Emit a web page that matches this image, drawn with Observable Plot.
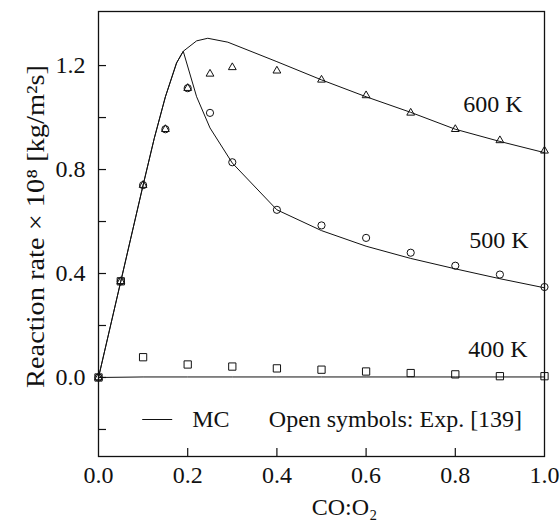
<!DOCTYPE html>
<html>
<head>
<meta charset="utf-8">
<script src="https://cdn.jsdelivr.net/npm/d3@7"></script>
<script src="https://cdn.jsdelivr.net/npm/@observablehq/plot@0.6"></script>
<style>
  html, body { margin: 0; padding: 0; background: #fff; }
</style>
</head>
<body>
<div id="chart"></div>
<script>
// ---- Data ----
const series = ["600 K", "500 K", "400 K"];

// Monte Carlo (MC) simulation curves
const mcX600 = [0, 0.05, 0.1, 0.125, 0.15, 0.175, 0.19, 0.22, 0.245, 0.29, 0.4, 0.5, 0.6, 0.7, 0.8, 0.9, 1.0];
const mcY600 = [0, 0.37, 0.74, 0.92, 1.08, 1.21, 1.255, 1.295, 1.305, 1.29, 1.215, 1.145, 1.08, 1.02, 0.955, 0.908, 0.865];

const mcX500 = [0, 0.05, 0.1, 0.125, 0.15, 0.175, 0.19, 0.22, 0.25, 0.3, 0.4, 0.5, 0.6, 0.7, 0.8, 0.9, 1.0];
const mcY500 = [0, 0.37, 0.74, 0.92, 1.08, 1.21, 1.255, 1.08, 0.96, 0.825, 0.645, 0.565, 0.505, 0.458, 0.418, 0.38, 0.345];

const mcX400 = [0, 0.1, 0.2, 0.3, 0.4, 0.5, 0.6, 0.7, 0.8, 0.9, 1.0];
const mcY400 = [0, 0.002, 0.002, 0.002, 0.002, 0.002, 0.002, 0.002, 0.002, 0.002, 0.002];

// Experimental data (open symbols)
const expX600 = [0, 0.05, 0.1, 0.15, 0.2, 0.25, 0.3, 0.4, 0.5, 0.6, 0.7, 0.8, 0.9, 1.0];
const expY600 = [0, 0.37, 0.74, 0.955, 1.113, 1.168, 1.193, 1.18, 1.145, 1.085, 1.018, 0.955, 0.912, 0.872];

const expX500 = [0, 0.05, 0.1, 0.15, 0.2, 0.25, 0.3, 0.4, 0.5, 0.6, 0.7, 0.8, 0.9, 1.0];
const expY500 = [0, 0.37, 0.74, 0.955, 1.113, 1.018, 0.828, 0.645, 0.585, 0.537, 0.48, 0.43, 0.396, 0.348];

const expX400 = [0, 0.05, 0.1, 0.2, 0.3, 0.4, 0.5, 0.6, 0.7, 0.8, 0.9, 1.0];
const expY400 = [0, 0.37, 0.078, 0.05, 0.042, 0.035, 0.03, 0.023, 0.017, 0.012, 0.005, 0.005];

// Axis ticks
const xTicks = [0, 0.2, 0.4, 0.6, 0.8, 1.0];
const yTickLabels = [0, 0.4, 0.8, 1.2];
const yTickMarks = [-0.2, 0, 0.2, 0.4, 0.6, 0.8, 1.0, 1.2];
const xTickMarks = [0.2, 0.4, 0.6, 0.8];

// Texts
const yLabel = "Reaction rate \u00d7 10\u2078 [kg/m\u00b2s]";
const xLabel = "CO:O\u2082";
const legendMC = "MC";
const legendExp = "Open symbols: Exp. [139]";

// ---- Build tables ----
const mcSets = [[mcX600, mcY600], [mcX500, mcY500], [mcX400, mcY400]];
const expSets = [[expX600, expY600], [expX500, expY500], [expX400, expY400]];
const mcData = [];
mcSets.forEach(([xs, ys], i) => xs.forEach((x, j) => mcData.push({series: series[i], x, y: ys[j]})));
const expData = [];
expSets.forEach(([xs, ys], i) => xs.forEach((x, j) => expData.push({series: series[i], x, y: ys[j]})));
const endPoints = mcSets.map(([xs, ys], i) => ({series: series[i], x: xs[xs.length - 1], y: ys[ys.length - 1]}));

// ---- Styles ----
const FONT = "'Liberation Serif', 'Times New Roman', Times, serif";
const FS = 24;
const FS_YLABEL = 25;
const W = 560, H = 526;
const M = {left: 98, right: 16, top: 11, bottom: 70};
const innerW = W - M.left - M.right;
const innerH = H - M.top - M.bottom;
const TICK = 8;
const ink = "#111";
const symbolStyle = {
  "600 K": {symbol: "triangle", r: 2.9},
  "500 K": {symbol: "circle", r: 3.6},
  "400 K": {symbol: "square", r: 4.1}
};
const labelOffset = {
  "600 K": {dx: -22, dy: -48},
  "500 K": {dx: -16, dy: -47},
  "400 K": {dx: -17, dy: -28}
};

const marks = [
  // frame
  Plot.frame({stroke: ink, strokeWidth: 1.3}),
  // inward ticks
  Plot.tickY(yTickMarks, {y: d => d, insetRight: innerW - TICK, stroke: ink, strokeWidth: 1.2}),
  Plot.tickX(xTickMarks, {x: d => d, insetTop: innerH - TICK, stroke: ink, strokeWidth: 1.2}),
  // tick labels
  Plot.axisY({ticks: yTickLabels, tickSize: 0, tickPadding: 13, tickFormat: d3.format(".1f"), label: null, fontSize: FS}),
  Plot.axisX({ticks: xTicks, tickSize: 0, tickPadding: 9, tickFormat: d3.format(".1f"), label: null, fontSize: FS}),
  // MC lines
  Plot.line(mcData, {x: "x", y: "y", z: "series", stroke: ink, strokeWidth: 1}),
];
// Experimental symbols
series.forEach(s => {
  marks.push(Plot.dot(expData.filter(d => d.series === s), {
    x: "x", y: "y", symbol: () => symbolStyle[s].symbol, r: symbolStyle[s].r,
    stroke: ink, fill: "none", strokeWidth: 1
  }));
});
// Series labels next to the curve ends
series.forEach(s => {
  marks.push(Plot.text(endPoints.filter(d => d.series === s), {
    x: "x", y: "y", text: "series", textAnchor: "end", lineAnchor: "middle",
    dx: labelOffset[s].dx, dy: labelOffset[s].dy, fontSize: FS, fill: ink
  }));
});
// Axis titles
marks.push(Plot.text([yLabel], {frameAnchor: "left", text: d => d, rotate: -90, textAnchor: "middle", lineAnchor: "middle", dx: -63, dy: -7.5, fontSize: FS_YLABEL, fill: ink}));
marks.push(Plot.text([xLabel], {frameAnchor: "bottom", text: d => d, textAnchor: "middle", lineAnchor: "middle", dx: 23, dy: 51.3, fontSize: FS, fill: ink}));
// Legend inside the frame
marks.push(Plot.frame({fill: ink, stroke: null, insetLeft: 43.7, insetRight: 372.3, insetTop: innerH - 37.5, insetBottom: 36.5}));
marks.push(Plot.text([legendMC], {frameAnchor: "bottom-left", text: d => d, textAnchor: "start", lineAnchor: "middle", dx: 93.7, dy: -37, fontSize: FS, fill: ink}));
marks.push(Plot.text([legendExp], {frameAnchor: "bottom-left", text: d => d, textAnchor: "start", lineAnchor: "middle", dx: 170.3, dy: -37, fontSize: FS, fill: ink}));

const chart = Plot.plot({
  width: W,
  height: H,
  marginLeft: M.left,
  marginRight: M.right,
  marginTop: M.top,
  marginBottom: M.bottom,
  x: {domain: [0, 1]},
  y: {domain: [-0.304, 1.408]},
  style: {fontFamily: FONT, fontSize: FS + "px", background: "#fff", color: ink},
  marks
});
// stretch the y-axis title to the length it has in the reference
d3.select(chart).selectAll("text")
  .filter(function () { return this.textContent === yLabel; })
  .attr("textLength", 323)
  .attr("lengthAdjust", "spacingAndGlyphs");
document.getElementById("chart").appendChild(chart);
</script>
</body>
</html>
